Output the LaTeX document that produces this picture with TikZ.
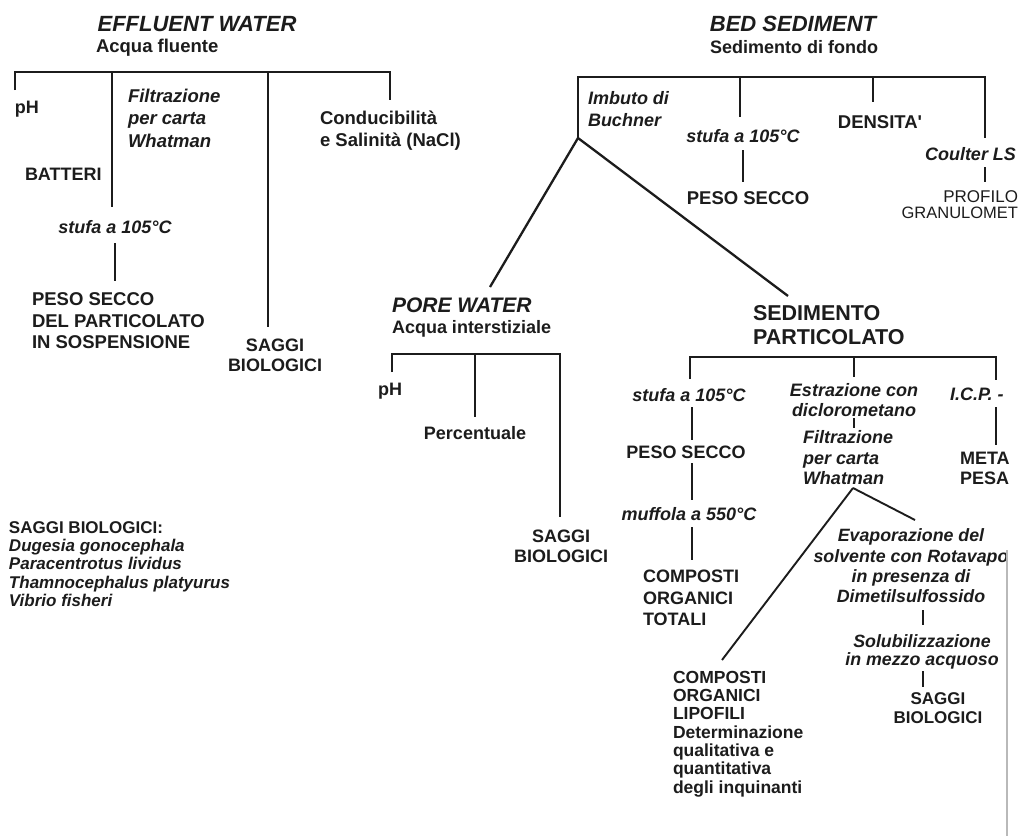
\documentclass[tikz,border=0pt]{standalone}
\usepackage{fontspec}
\setmainfont{Liberation Sans}
\newcommand\fsz[2]{\fontsize{#1}{#2}\selectfont}
\definecolor{ink}{HTML}{1C1C1C}
\begin{document}
\begin{tikzpicture}[x=1pt,y=-1pt,
  t/.style={inner sep=0pt,outer sep=0pt,text=ink,font=\bfseries\fsz{18}{20}},
  ti/.style={t,font=\bfseries\itshape\fsz{18}{20}},
  hd/.style={t,font=\bfseries\itshape\fsz{22}{26}},
  ln/.style={line width=2.5pt,draw=ink},
  tk/.style={line width=1.9pt,draw=ink},
  dg/.style={line width=2.3pt,draw=ink}]
\fill[white] (0,0) rectangle (1018,836);
\useasboundingbox (0,0) rectangle (1018,836);

% ================= EFFLUENT WATER =================
\node[hd] (effH) at (197,24) {EFFLUENT WATER};
\node[t,font=\bfseries\fsz{18.5}{22},anchor=west] (effS) at (96,48) {Acqua fluente};
\coordinate (eL) at (15,72);  \coordinate (eR) at (390,72);
\coordinate (e2) at (112,72); \coordinate (e3) at (268,72);
\coordinate (eLd) at (15,90); \coordinate (eRd) at (390,100);
\coordinate (e2d) at (112,207); \coordinate (e3d) at (268,327);
\draw[ln] (eLd) -- (eL) -- (eR) -- (eRd);
\draw[ln] (e2) -- (e2d);
\draw[ln] (e3) -- (e3d);
\node[t,anchor=west] (ph1) at (15,109) {pH};
\node[t,anchor=west] (batt) at (25,174) {BATTERI};
\node[ti,align=left,anchor=west,font=\bfseries\itshape\fsz{18.5}{22.5}] (filt1) at (128,118) {Filtrazione\\per carta\\Whatman};
\node[ti] (stufa1) at (115,227) {stufa a 105°C};
\coordinate (s1a) at (115,243); \coordinate (s1b) at (115,281);
\draw[ln] (s1a) -- (s1b);
\node[t,align=left,anchor=west,font=\bfseries\fsz{18.5}{21.5}] (pesoL) at (32,321) {PESO SECCO\\DEL PARTICOLATO\\IN SOSPENSIONE};
\node[t,align=center,font=\bfseries\fsz{18}{20}] (sag1) at (275,355) {SAGGI\\BIOLOGICI};
\node[t,align=left,anchor=west,font=\bfseries\fsz{18.5}{22}] (cond) at (320,131) {Conducibilità\\e Salinità (NaCl)};

% legend
\node[t,align=left,anchor=west,font=\bfseries\itshape\fsz{17}{18.3}] (leg) at (9,564)
  {\upshape SAGGI BIOLOGICI:\\Dugesia gonocephala\\Paracentrotus lividus\\Thamnocephalus platyurus\\Vibrio fisheri};

% ================= BED SEDIMENT =================
\node[hd] (bedH) at (793,24) {BED SEDIMENT};
\node[t,font=\bfseries\fsz{18}{22}] (bedS) at (794,47) {Sedimento di fondo};
\coordinate (V) at (578,138);
\coordinate (bL) at (578,77); \coordinate (bR) at (985,77);
\coordinate (b2) at (740,77); \coordinate (b3) at (873,77);
\coordinate (bRd) at (985,138);
\coordinate (b2d) at (740,117); \coordinate (b3d) at (873,102);
\draw[ln] (V) -- (bL) -- (bR) -- (bRd);
\draw[ln] (b2) -- (b2d);
\draw[ln] (b3) -- (b3d);
\node[ti,align=left,anchor=west,font=\bfseries\itshape\fsz{18}{22}] (imb) at (588,109) {Imbuto di\\Buchner};
\node[ti] (stufa2) at (743,136) {stufa a 105°C};
\coordinate (s2a) at (743,150); \coordinate (s2b) at (743,182);
\draw[ln] (s2a) -- (s2b);
\node[t,font=\bfseries\fsz{18.5}{20}] (peso2) at (748,198) {PESO SECCO};
\node[t,font=\bfseries\fsz{18.5}{20}] (dens) at (880,122) {DENSITA\textquotesingle};
\node[ti,anchor=west] (coul) at (925,154) {Coulter LS};
\coordinate (c1) at (985,167); \coordinate (c2) at (985,182);
\draw[tk] (c1) -- (c2);
\node[t,font=\fsz{17}{20},anchor=east] (prof) at (1018,197) {PROFILO};
\node[t,font=\fsz{16.5}{20},anchor=east] (gran) at (1018,213) {GRANULOMET};

% diagonals from Buchner
\coordinate (pw) at (490,287);
\coordinate (sp) at (788,296);
\draw[dg] (V) -- (pw);
\draw[dg] (V) -- (sp);

% ================= PORE WATER =================
\node[hd,font=\bfseries\itshape\fsz{21}{25},anchor=west] (poreH) at (392,305) {PORE WATER};
\node[t,font=\bfseries\fsz{18}{22},anchor=west] (poreS) at (392,329) {Acqua interstiziale};
\coordinate (pL) at (392,354); \coordinate (pR) at (560,354); \coordinate (p2) at (475,354);
\coordinate (pLd) at (392,372); \coordinate (pRd) at (560,517); \coordinate (p2d) at (475,417);
\draw[ln] (pLd) -- (pL) -- (pR) -- (pRd);
\draw[ln] (p2) -- (p2d);
\node[t] (ph2) at (390,391) {pH};
\node[t] (perc) at (475,433) {Percentuale};
\node[t,align=center] (sag2) at (561,546) {SAGGI\\BIOLOGICI};

% ================= SEDIMENTO PARTICOLATO =================
\node[t,align=left,anchor=west,font=\bfseries\fsz{21.5}{24}] (sedP) at (753,325) {SEDIMENTO\\PARTICOLATO};
\coordinate (qL) at (690,357); \coordinate (qR) at (996,357); \coordinate (q2) at (854,357);
\coordinate (qLd) at (690,379); \coordinate (qRd) at (996,380); \coordinate (q2d) at (854,377);
\draw[ln] (qLd) -- (qL) -- (qR) -- (qRd);
\draw[ln] (q2) -- (q2d);
% left column
\node[ti] (stufa3) at (689,395) {stufa a 105°C};
\coordinate (l1a) at (692,407); \coordinate (l1b) at (692,440);
\draw[ln] (l1a) -- (l1b);
\node[t] (peso3) at (686,452) {PESO SECCO};
\coordinate (l2a) at (692,463); \coordinate (l2b) at (692,500);
\draw[ln] (l2a) -- (l2b);
\node[ti] (muff) at (689,514) {muffola a 550°C};
\coordinate (l3a) at (692,527); \coordinate (l3b) at (692,560);
\draw[ln] (l3a) -- (l3b);
\node[t,align=left,anchor=west,font=\bfseries\fsz{18}{21.5}] (compT) at (643,598) {COMPOSTI\\ORGANICI\\TOTALI};
% middle column
\node[ti,align=center] (estr) at (854,400) {Estrazione con\\diclorometano};
\coordinate (m1a) at (854,418); \coordinate (m1b) at (854,428);
\draw[tk] (m1a) -- (m1b);
\node[ti,align=left,anchor=west,font=\bfseries\itshape\fsz{18}{20.5}] (filt2) at (803,458) {Filtrazione\\per carta\\Whatman};
\coordinate (W) at (853,488);
\coordinate (lipT) at (722,660);
\coordinate (evT) at (915,520);
\draw[tk] (W) -- (lipT);
\draw[tk] (W) -- (evT);
\node[t,align=left,anchor=west,font=\bfseries\fsz{17.5}{18.3}] (lipo) at (673,734)
  {COMPOSTI\\ORGANICI\\LIPOFILI\\Determinazione\\qualitativa e\\quantitativa\\degli inquinanti};
\node[ti,align=center,font=\bfseries\itshape\fsz{17.8}{20.3}] (evap) at (911,566)
  {Evaporazione del\\solvente con Rotavapo\\in presenza di\\Dimetilsulfossido};
\coordinate (v1a) at (923,610); \coordinate (v1b) at (923,625);
\draw[tk] (v1a) -- (v1b);
\node[ti,align=center,font=\bfseries\itshape\fsz{17.8}{18.5}] (solu) at (922,652) {Solubilizzazione\\in mezzo acquoso};
\coordinate (v2a) at (923,671); \coordinate (v2b) at (923,687);
\draw[tk] (v2a) -- (v2b);
\node[t,align=center,font=\bfseries\fsz{17}{19}] (sag3) at (938,708) {SAGGI\\BIOLOGICI};
% right column
\node[ti,anchor=west] (icp) at (950,394) {I.C.P. -};
\coordinate (r1a) at (996,407); \coordinate (r1b) at (996,445);
\draw[ln] (r1a) -- (r1b);
\node[t,align=left,anchor=west,font=\bfseries\fsz{18}{20}] (meta) at (960,468) {META\\PESA};

% scan edge
\coordinate (edgeA) at (1007,550); \coordinate (edgeB) at (1007,836);
\draw[gray!55,line width=1.2pt] (edgeA) -- (edgeB);
\end{tikzpicture}
\end{document}
